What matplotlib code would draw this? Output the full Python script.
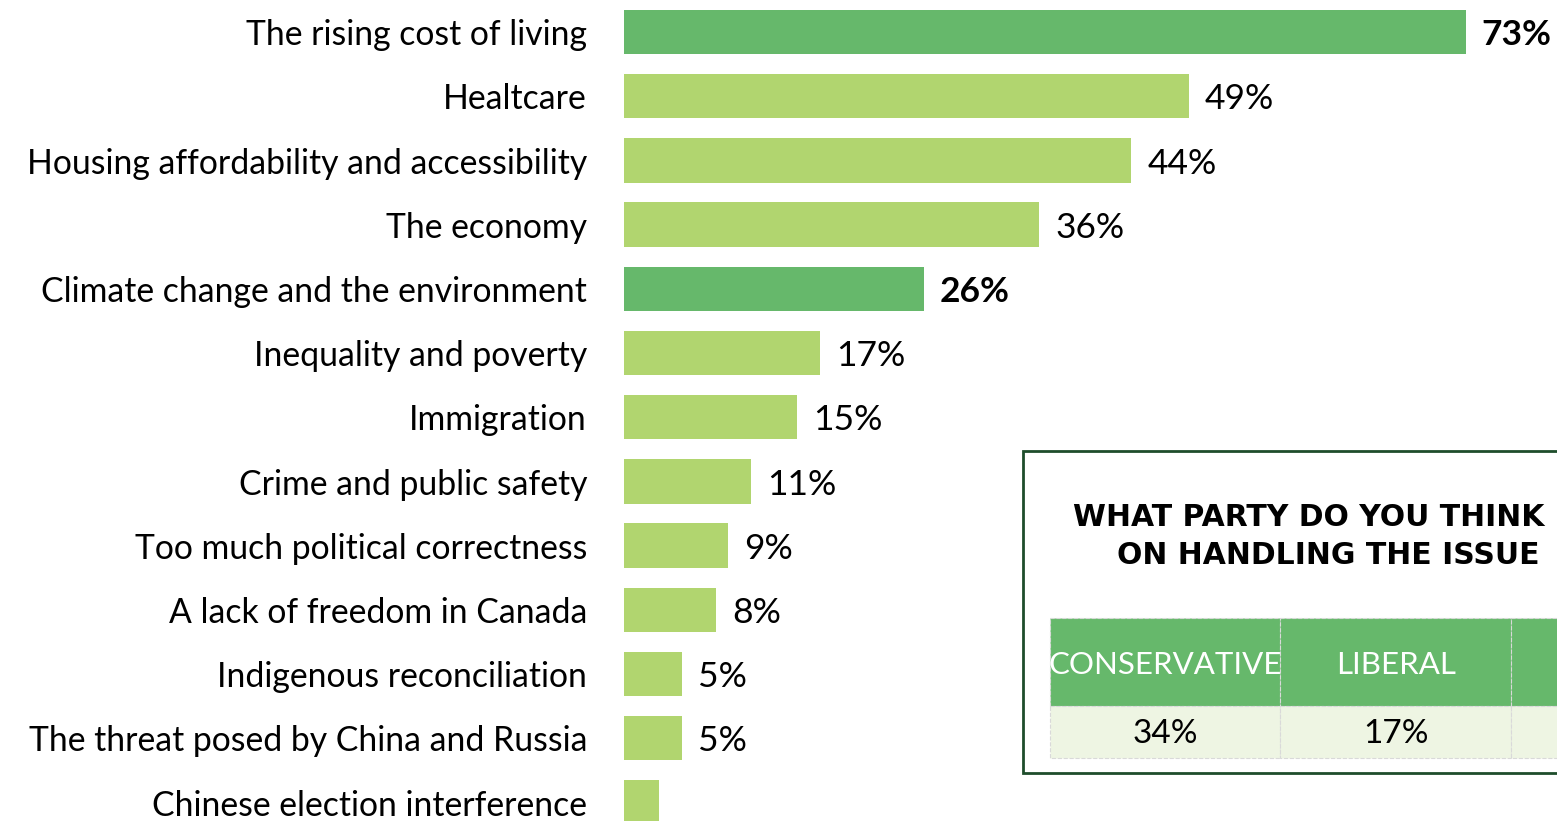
import matplotlib
matplotlib.use("Agg")
import matplotlib.pyplot as plt
from matplotlib.patches import Rectangle

# top issues, share of respondents (%)
issues = [
    "The rising cost of living",
    "Healtcare",
    "Housing affordability and accessibility",
    "The economy",
    "Climate change and the environment",
    "Inequality and poverty",
    "Immigration",
    "Crime and public safety",
    "Too much political correctness",
    "A lack of freedom in Canada",
    "Indigenous reconciliation",
    "The threat posed by China and Russia",
    "Chinese election interference",
]
shares = [73, 49, 44, 36, 26, 17, 15, 11, 9, 8, 5, 5, 3]
highlight = ["The rising cost of living", "Climate change and the environment"]

# party trusted most on the issue
title_lines = ["WHAT PARTY DO YOU THINK", "ON HANDLING THE ISSUE"]
parties = ["CONSERVATIVE", "LIBERAL", ""]
party_shares = ["34%", "17%", ""]

DARK = "#66B86B"
LIGHT = "#B1D56F"
PALE = "#EEF5E3"
FONT = "Lato"

W, H = 1557, 821
fig = plt.figure(figsize=(W / 100, H / 100), dpi=100)
fig.patch.set_facecolor("white")

ax = fig.add_axes([624 / W, 0, 1 - 624 / W, 1])
ypos = list(range(len(issues)))
colors = [DARK if name in highlight else LIGHT for name in issues]
ax.barh(ypos, shares, height=0.69, color=colors)
ax.set_xlim(0, (W - 624) / 11.53)
ax.set_ylim((H - 32) / 64.2, -32 / 64.2)
ax.axis("off")

for y, name, v in zip(ypos, issues, shares):
    ax.text(-3.2, y + 0.05, name, ha="right", va="center", fontsize=24.3,
            family=FONT, color="black")
    if y < len(issues) - 1:
        bold = name in highlight
        ax.text(v + 1.4, y + 0.05, f"{v}%", ha="left", va="center",
                fontsize=25.5, family=FONT,
                fontweight="bold" if bold else "normal", color="black")

# side table with party results
ov = fig.add_axes([0, 0, 1, 1], zorder=5)
ov.set_xlim(0, W)
ov.set_ylim(H, 0)
ov.axis("off")
ov.patch.set_alpha(0)

ov.add_patch(Rectangle((1023, 451), 600, 322, facecolor="white",
                       edgecolor="#1E4D2B", linewidth=2))
for (x, y), line in zip([(1073, 517), (1117, 555)], title_lines):
    ov.text(x, y, line, ha="left", va="center", fontsize=21.5,
            family="DejaVu Sans", fontweight="bold", color="black")

col_w = 230.5
for i, (p, s) in enumerate(zip(parties, party_shares)):
    x0 = 1050 + i * col_w
    ov.add_patch(Rectangle((x0, 618), col_w, 88, facecolor=DARK,
                           edgecolor="#D9D9D9", linewidth=0.8, linestyle="--"))
    ov.add_patch(Rectangle((x0, 706), col_w, 52, facecolor=PALE,
                           edgecolor="#D9D9D9", linewidth=0.8, linestyle="--"))
    ov.text(x0 + col_w / 2, 665, p, ha="center", va="center", fontsize=22.5,
            family=FONT, color="white")
    ov.text(x0 + col_w / 2, 734, s, ha="center", va="center", fontsize=24,
            family=FONT, color="black")

fig.savefig("out.png", dpi=100)
